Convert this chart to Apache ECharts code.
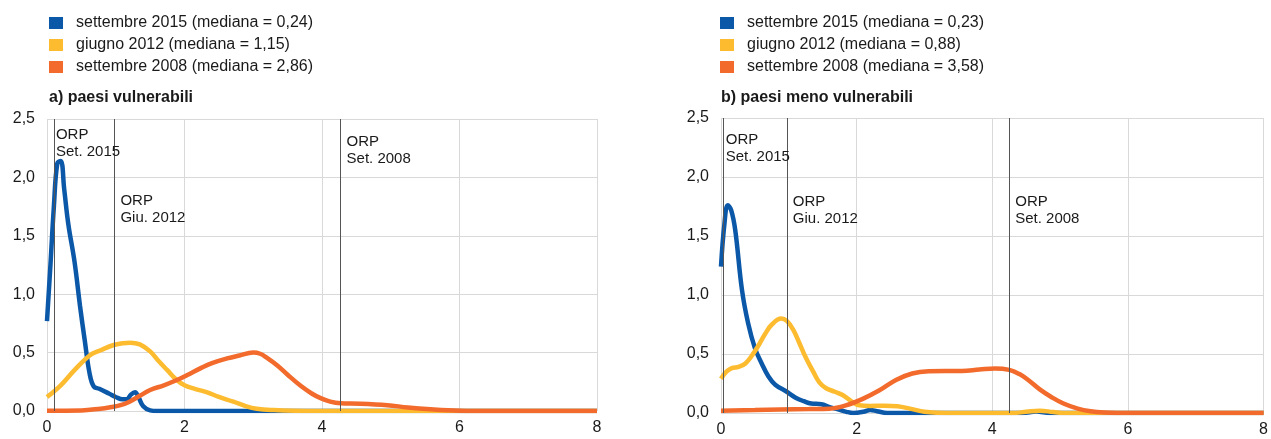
<!DOCTYPE html>
<html><head><meta charset="utf-8">
<script src="https://cdn.jsdelivr.net/npm/echarts@6/dist/echarts.min.js"></script>
<style>html,body{margin:0;padding:0;background:#fff}#c{width:1271px;height:439px}</style>
</head><body><div id="c"></div>
<script>
// ---- data ----
const namesA = ['settembre 2015 (mediana = 0,24)', 'giugno 2012 (mediana = 1,15)', 'settembre 2008 (mediana = 2,86)'];
const namesB = ['settembre 2015 (mediana = 0,23)', 'giugno 2012 (mediana = 0,88)', 'settembre 2008 (mediana = 3,58)'];
const titleA = 'a) paesi vulnerabili';
const titleB = 'b) paesi meno vulnerabili';
const xTicks = [0, 2, 4, 6, 8];
const yTicks = [0, 0.5, 1, 1.5, 2, 2.5];

const blueA = [[0,0.77],[0.05,1.25],[0.1,1.75],[0.15,2.12],[0.2,2.14],[0.25,1.9],[0.31,1.6],[0.4,1.28],[0.48,0.9],[0.55,0.6],[0.62,0.32],[0.68,0.21],[0.76,0.19],[0.9,0.15],[1.0,0.12],[1.1,0.1],[1.16,0.1],[1.22,0.14],[1.28,0.16],[1.33,0.12],[1.4,0.04],[1.5,0.005],[1.6,0],[2,0],[3,0],[4,0],[5,0],[6,0],[7,0],[8,0]];
const yellowA = [[0,0.12],[0.2,0.22],[0.4,0.35],[0.63,0.48],[0.78,0.52],[0.97,0.565],[1.1,0.58],[1.21,0.585],[1.35,0.57],[1.5,0.51],[1.62,0.43],[1.75,0.35],[1.88,0.27],[2.0,0.22],[2.15,0.19],[2.33,0.16],[2.5,0.12],[2.71,0.08],[2.9,0.04],[3.05,0.02],[3.3,0.008],[3.6,0.002],[4,0],[5,0],[6,0],[8,0]];
const orangeA = [[0,0.003],[0.5,0.005],[0.78,0.02],[0.9,0.03],[1.07,0.05],[1.2,0.08],[1.35,0.13],[1.5,0.18],[1.7,0.22],[1.89,0.265],[2.05,0.31],[2.23,0.365],[2.4,0.41],[2.62,0.45],[2.8,0.475],[3.0,0.5],[3.1,0.49],[3.2,0.455],[3.35,0.39],[3.5,0.31],[3.68,0.22],[3.85,0.15],[3.98,0.11],[4.12,0.08],[4.27,0.066],[4.56,0.063],[4.95,0.05],[5.25,0.03],[5.58,0.015],[6,0.003],[6.5,0],[8,0]];

const blueB = [[0,1.24],[0.05,1.6],[0.1,1.76],[0.15,1.72],[0.21,1.55],[0.31,1.04],[0.4,0.76],[0.5,0.55],[0.6,0.42],[0.7,0.31],[0.8,0.24],[0.97,0.18],[1.1,0.13],[1.22,0.1],[1.33,0.08],[1.48,0.075],[1.6,0.05],[1.7,0.035],[1.85,0.01],[1.95,0],[2.1,0.01],[2.2,0.025],[2.3,0.015],[2.45,0],[3,0],[4,0],[4.45,0],[4.65,0.012],[4.85,0],[5,0],[8,0]];
const yellowB = [[0,0.29],[0.08,0.35],[0.16,0.38],[0.26,0.39],[0.36,0.42],[0.46,0.49],[0.55,0.57],[0.65,0.67],[0.75,0.75],[0.89,0.8],[0.97,0.78],[1.06,0.71],[1.15,0.6],[1.25,0.47],[1.36,0.35],[1.45,0.26],[1.55,0.21],[1.68,0.18],[1.8,0.15],[1.92,0.1],[2.04,0.065],[2.2,0.06],[2.4,0.062],[2.6,0.057],[2.8,0.035],[3.0,0.01],[3.2,0.002],[3.5,0],[4.3,0],[4.5,0.01],[4.7,0.02],[4.9,0.008],[5.1,0],[8,0]];
const orangeB = [[0,0.02],[0.5,0.025],[0.87,0.03],[1.3,0.033],[1.6,0.037],[1.84,0.065],[2.09,0.12],[2.33,0.19],[2.58,0.28],[2.82,0.335],[3.06,0.354],[3.3,0.356],[3.55,0.356],[3.81,0.368],[4.04,0.377],[4.25,0.365],[4.4,0.33],[4.53,0.28],[4.7,0.2],[4.87,0.136],[5.05,0.08],[5.26,0.037],[5.45,0.015],[5.65,0.005],[6,0],[8,0]];

const orpLabels = ['ORP\nSet. 2015', 'ORP\nGiu. 2012', 'ORP\nSet. 2008'];
const orpA = [0.1, 0.98, 4.27];
const orpB = [0.04, 0.97, 4.25];

// ---- layout / style ----
const COLORS = ['#0b57a8', '#fdbb2f', '#f26b2c'];
const FONT = '"Liberation Sans", Arial, sans-serif';
const labelYA = [2.29, 1.73, 2.23];
const labelYB = [2.24, 1.72, 1.72];
const labelDx = [[2, 6, 6], [2, 6, 6]];

const chart = echarts.init(document.getElementById('c'), null, {renderer: 'canvas'});

function xAxis(i) {
  return {gridIndex: i, type: 'value', min: 0, max: 8, interval: 2,
    axisLine: {show: false}, axisTick: {show: false},
    splitLine: {show: true, lineStyle: {color: '#d9d9d9', width: 1}},
    axisLabel: {color: '#1a1a1a', fontSize: 16, fontFamily: FONT, margin: 9,
      formatter: v => xTicks.includes(v) ? String(v) : ''}};
}
function yAxis(i) {
  return {gridIndex: i, type: 'value', min: 0, max: 2.5, interval: 0.5,
    axisLine: {show: false}, axisTick: {show: false},
    splitLine: {show: true, lineStyle: {color: '#d9d9d9', width: 1}},
    axisLabel: {color: '#1a1a1a', fontSize: 16, fontFamily: FONT, margin: 12,
      formatter: v => yTicks.some(t => Math.abs(t - v) < 1e-9) ? v.toFixed(1).replace('.', ',') : ''}};
}
function curve(name, data, idx, color) {
  return {name, type: 'line', xAxisIndex: idx, yAxisIndex: idx, data, smooth: 0.4,
    showSymbol: false, symbol: 'none', lineStyle: {color, width: 4.5}, itemStyle: {color},
    silent: true, animation: false};
}
function orp(idx, xs, ys, dx) {
  return {type: 'line', xAxisIndex: idx, yAxisIndex: idx, data: [], silent: true, animation: false, z: 1,
    markLine: {silent: true, symbol: 'none', animation: false,
      lineStyle: {color: '#555', width: 1, type: 'solid'}, label: {show: false},
      data: xs.map(x => ({xAxis: x}))},
    markPoint: {silent: true, animation: false, symbol: 'circle', symbolSize: 0,
      itemStyle: {color: 'rgba(0,0,0,0)'},
      data: xs.map((x, k) => ({coord: [x, ys[k]], value: orpLabels[k],
        label: {show: true, position: 'right', distance: dx[k], formatter: orpLabels[k],
          color: '#1a1a1a', fontSize: 15, lineHeight: 17, fontFamily: FONT, align: 'left'}}))}};
}
function legend(left, names) {
  return {left, top: 15, orient: 'vertical', itemWidth: 14, itemHeight: 12, itemGap: 6,
    icon: 'rect', data: names, selectedMode: false, padding: 0,
    textStyle: {fontSize: 16, fontFamily: FONT, color: '#1a1a1a', lineHeight: 16, padding: [0, 0, 0, 8]}};
}

chart.setOption({
  animation: false,
  textStyle: {fontFamily: FONT},
  title: [
    {text: titleA, left: 49, top: 90, padding: 0, textStyle: {fontSize: 16, fontWeight: 'bold', color: '#1a1a1a', fontFamily: FONT}},
    {text: titleB, left: 721, top: 90, padding: 0, textStyle: {fontSize: 16, fontWeight: 'bold', color: '#1a1a1a', fontFamily: FONT}}
  ],
  legend: [legend(49, namesA), legend(720, namesB)],
  grid: [
    {left: 47, top: 119, width: 550, height: 292},
    {left: 721, top: 118, width: 547, height: 295}
  ],
  xAxis: [xAxis(0), xAxis(1)],
  yAxis: [yAxis(0), yAxis(1)],
  series: [
    orp(0, orpA, labelYA, labelDx[0]),
    orp(1, orpB, labelYB, labelDx[1]),
    curve(namesA[0], blueA, 0, COLORS[0]),
    curve(namesA[1], yellowA, 0, COLORS[1]),
    curve(namesA[2], orangeA, 0, COLORS[2]),
    curve(namesB[0], blueB, 1, COLORS[0]),
    curve(namesB[1], yellowB, 1, COLORS[1]),
    curve(namesB[2], orangeB, 1, COLORS[2])
  ]
});
</script></body></html>
